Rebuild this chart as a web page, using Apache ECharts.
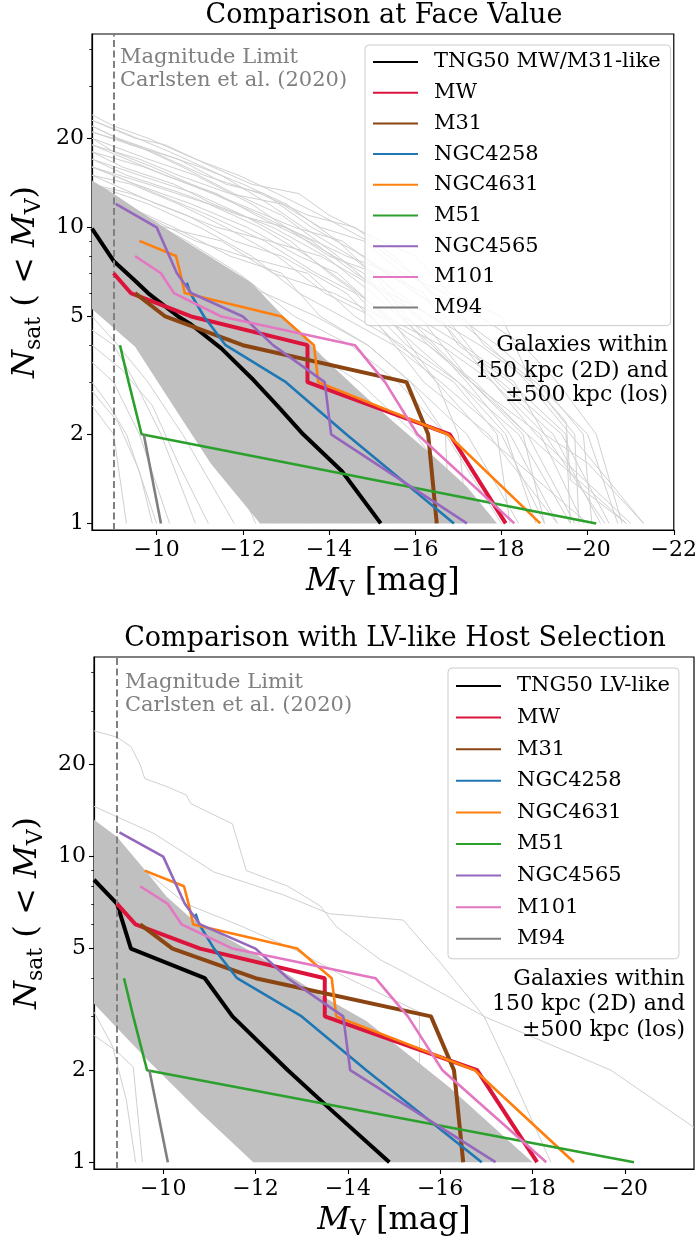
<!DOCTYPE html>
<html>
<head>
<meta charset="utf-8">
<script src="https://cdn.jsdelivr.net/npm/echarts@6/dist/echarts.min.js"></script>
<style>
html,body{margin:0;padding:0;background:#fff;}
#main{width:700px;height:1246px;}
</style>
</head>
<body>
<div id="main"></div>
<script>
// Cumulative satellite luminosity functions: [M_V, N_sat(<M_V)]
const obsNames = ['MW', 'M31', 'NGC4258', 'NGC4631', 'M51', 'NGC4565', 'M101', 'M94'];
const mw      = [[-9.0,7],[-9.4,6],[-10.8,5],[-13.5,4],[-13.5,3],[-16.8,2],[-18.1,1]];
const m31     = [[-9.5,6],[-10.2,5],[-12.0,4],[-15.8,3],[-16.3,2],[-16.5,1]];
const ngc4258 = [[-10.7,6.5],[-10.78,6],[-11.1,5],[-11.6,4],[-13.0,3],[-14.4,2],[-16.9,1]];
const ngc4631 = [[-9.6,9],[-10.45,8],[-10.55,7],[-10.65,6],[-12.9,5],[-13.65,4],[-13.75,3],[-16.75,2],[-18.9,1]];
const m51     = [[-9.15,4],[-9.35,3],[-9.65,2],[-20.2,1]];
const ngc4565 = [[-9.05,12],[-10.0,10],[-10.47,7],[-10.8,6],[-12.0,5],[-12.7,4],[-13.9,3],[-14.05,2],[-17.2,1]];
const m101    = [[-9.5,8],[-10.1,7],[-10.4,6],[-11.5,5],[-14.6,4],[-15.3,3],[-16.05,2],[-18.3,1]];
const m94     = [[-9.7,2],[-10.1,1]];

// TNG50 medians
const tngFace = [[-8.5,9.9],[-9.0,7.7],[-9.5,6.6],[-9.8,6.0],[-10.5,5.0],[-10.8,4.7],[-11.5,3.9],[-12.2,3.1],[-12.8,2.5],[-13.4,2.0],[-14.3,1.5],[-15.2,1.0]];
const tngLV   = [[-8.5,8.4],[-9.0,7.0],[-9.3,5.0],[-10.9,4.0],[-11.5,3.0],[-12.7,2.0],[-13.6,1.5],[-14.9,1.0]];

// TNG50 scatter bands (upper edge left->right, lower edge left->right)
const bandFaceUpper = [[-8.5,14.4],[-9.0,13.0],[-10.5,9.3],[-12.2,6.5],[-13.0,4.9],[-13.9,3.6],[-14.7,2.8],[-15.5,2.2],[-16.4,1.7],[-17.2,1.33],[-17.9,1.0]];
const bandFaceLower = [[-8.5,5.3],[-9.5,3.95],[-10.5,2.35],[-11.26,1.59],[-12.4,1.0]];
const bandLVUpper   = [[-8.5,13.2],[-9.0,11.6],[-9.64,8.9],[-10.07,7.4],[-10.57,6.35],[-12.0,4.8],[-13.3,3.6],[-14.4,2.9],[-16.2,1.76],[-18.0,1.0]];
const bandLVLower   = [[-8.5,3.3],[-9.66,2.16],[-10.83,1.44],[-11.95,1.0]];

// Individual TNG50 hosts
const hostsFace = [
  [[-8.5,23],[-9.2,21],[-10.3,18],[-11.5,15],[-12.6,12],[-13.4,10],[-14.5,8],[-15.6,6],[-16.8,4.5],[-17.8,3],[-19.0,2],[-20.0,1.6],[-21.3,1]],
  [[-8.5,21],[-9.5,19],[-10.6,16],[-11.8,13],[-12.9,11],[-14.2,8],[-15.2,6],[-16.3,4],[-17.4,3],[-18.6,2],[-20.9,1]],
  [[-8.5,19],[-9.3,17],[-10.2,15],[-11.4,13],[-12.3,11],[-13.5,9],[-14.8,7],[-15.7,5],[-16.8,4],[-18.0,3],[-19.4,2],[-20.5,1]],
  [[-8.5,17],[-9.6,15],[-10.9,13],[-12.0,11],[-13.1,9],[-14.0,7],[-15.4,5],[-16.5,3],[-17.6,2],[-20.0,1]],
  [[-8.5,16],[-9.0,15],[-10.0,13],[-11.2,11],[-12.5,9],[-13.7,7],[-14.6,6],[-15.8,4],[-17.0,3],[-18.4,2],[-19.6,1]],
  [[-8.5,15],[-9.4,14],[-10.5,12],[-11.6,10],[-12.8,8],[-13.9,6],[-15.0,5],[-16.2,3],[-17.7,2],[-19.3,1]],
  [[-8.5,14],[-9.8,12],[-11.0,10],[-12.2,8],[-13.3,6],[-14.3,5],[-15.5,4],[-16.6,3],[-18.0,2],[-19.0,1]],
  [[-8.5,20],[-9.0,18],[-9.9,16],[-10.8,14],[-11.9,12],[-13.2,10],[-14.3,9],[-15.3,7],[-16.2,6],[-17.0,4],[-18.2,3],[-19.5,2],[-19.6,1]],
  [[-8.5,22],[-9.1,20],[-10.0,18],[-11.0,16],[-12.0,14],[-13.0,12],[-14.2,9],[-15.0,7],[-15.8,5],[-17.3,3],[-18.5,2],[-19.0,1]],
  [[-8.5,18],[-9.7,16],[-11.3,13],[-12.4,11],[-13.6,9],[-14.6,7],[-15.4,6],[-16.4,5],[-17.5,4],[-18.7,3],[-19.7,2],[-19.8,1]],
  [[-8.5,13],[-9.2,12],[-10.4,10],[-11.7,8],[-12.9,7],[-13.8,5],[-14.9,4],[-15.9,3],[-17.2,2],[-18.4,1]],
  [[-8.5,12],[-9.6,11],[-10.7,9],[-11.9,7],[-13.2,5],[-14.5,4],[-15.6,3],[-16.7,2],[-18.0,1]],
  [[-8.5,11],[-9.9,9],[-11.1,7],[-12.3,6],[-13.4,4],[-14.7,3],[-16.0,2],[-17.5,1]],
  [[-8.5,10],[-9.3,9],[-10.5,7],[-11.7,5],[-13.0,4],[-14.0,3],[-15.4,2],[-16.8,1]],
  [[-8.5,9],[-9.8,7],[-11.2,5],[-12.4,4],[-13.6,3],[-14.8,2],[-16.0,1]],
  [[-8.5,8],[-9.5,7],[-10.8,5],[-12.0,4],[-13.0,3],[-14.3,2],[-15.3,1]],
  [[-8.5,7],[-9.4,6],[-10.4,5],[-11.5,4],[-12.5,3],[-13.8,2],[-14.6,1]],
  [[-8.5,6],[-9.3,5],[-10.2,4],[-11.0,3],[-12.0,2],[-13.5,1]],
  [[-8.5,5],[-9.1,4],[-9.8,3],[-10.6,2],[-11.8,1]],
  [[-8.5,4.5],[-9.0,4],[-9.5,3],[-10.1,2],[-10.9,1]],
  [[-8.5,3.5],[-9.0,3],[-9.6,2],[-10.3,1]],
  [[-8.5,3],[-8.9,2.5],[-9.3,2],[-10.0,1]],
  [[-8.5,2.5],[-9.0,2],[-9.3,1]],
  [[-8.5,6.5],[-9.6,5],[-10.7,4],[-11.4,3],[-12.1,2],[-12.8,1]],
  [[-8.5,22],[-9.4,19],[-10.5,17],[-11.6,14],[-12.5,13],[-13.6,10],[-14.8,8],[-16.0,6],[-17.0,5],[-17.9,4],[-18.9,3],[-19.9,2],[-20.1,1]],
  [[-8.5,20],[-9.8,17],[-10.9,15],[-12.2,12],[-13.0,10],[-14.0,8],[-15.1,7],[-16.0,5],[-17.1,4],[-18.3,3],[-19.0,2],[-20.4,1]],
  [[-8.5,16],[-9.5,14],[-10.8,12],[-12.1,10],[-13.3,8],[-14.2,7],[-15.3,5],[-16.6,4],[-17.8,3],[-18.8,2],[-21.0,1]],
  [[-8.5,18],[-9.2,16],[-10.4,14],[-11.3,12],[-12.7,10],[-13.9,8],[-15.0,6],[-16.4,4],[-17.2,3],[-18.2,2],[-19.3,1]],
  [[-8.5,15],[-10.0,12],[-11.4,10],[-12.6,9],[-13.8,8],[-15.3,6],[-16.1,5],[-17.3,3],[-18.9,2],[-19.9,1]],
  [[-8.5,14],[-9.4,13],[-10.7,11],[-11.8,9],[-12.9,8],[-14.4,6],[-15.6,4],[-16.9,3],[-17.9,2],[-18.2,1]],
  [[-8.5,24],[-9.0,22],[-9.8,20],[-10.9,17],[-11.9,15],[-12.8,13],[-13.8,11],[-14.9,9],[-15.9,7],[-16.9,5],[-17.7,4],[-18.6,3],[-19.6,2],[-21.3,1]],
  [[-8.5,19],[-9.6,17],[-10.5,15],[-11.7,13],[-12.9,12],[-13.8,10],[-14.8,9],[-15.7,7],[-16.7,6],[-17.6,4],[-18.8,3],[-20.0,2],[-20.7,1]],
  [[-8.5,13],[-9.7,11],[-10.9,9],[-12.0,8],[-13.5,7],[-14.6,5],[-15.7,4],[-16.5,3],[-17.0,2],[-17.2,1]],
  [[-8.5,12],[-9.3,11],[-10.2,10],[-11.5,9],[-12.7,7],[-14.1,6],[-15.2,5],[-16.3,4],[-17.3,3],[-18.6,2],[-19.7,1]],
  [[-8.5,17],[-9.3,15],[-10.6,13],[-11.9,11],[-13.0,10],[-14.4,8],[-15.5,7],[-16.7,5],[-17.9,3],[-19.2,2],[-20.3,1]],
  [[-8.5,10],[-9.8,8],[-11.0,7],[-12.5,6],[-13.7,5],[-14.9,4],[-15.9,3],[-16.7,2],[-16.8,1]],
  [[-8.5,21],[-9.9,18],[-11.1,15],[-12.4,13],[-13.5,11],[-14.6,10],[-15.5,8],[-16.4,6],[-17.5,5],[-18.5,4],[-19.3,3],[-20.2,2],[-20.8,1]],
  [[-8.5,16],[-9.8,14],[-11.2,12],[-12.4,10],[-13.5,8],[-14.7,6],[-16.0,4],[-17.0,3],[-18.1,2],[-18.8,1]],
  [[-8.5,9],[-9.4,8],[-10.5,6],[-11.7,5],[-12.8,4],[-14.1,3],[-15.6,2],[-17.0,1]],
  [[-8.5,5.5],[-9.2,4.5],[-10.0,3.5],[-10.8,2.5],[-11.5,1.8],[-12.3,1]],
  [[-8.5,4],[-9.2,3.3],[-9.9,2.5],[-10.5,1.6],[-11.2,1]],
  [[-8.5,2.8],[-9.1,2.2],[-9.6,1.5],[-9.9,1]],
  [[-8.5,23],[-9.5,20],[-10.2,19],[-11.3,16],[-12.2,14],[-13.3,13],[-14.0,11],[-15.2,9],[-16.0,8],[-16.8,6],[-18.0,5],[-18.7,3],[-19.5,2.2],[-19.6,1.4],[-20.9,1]]
];
const hostsLV = [
  [[-8.5,25.8],[-9.0,24.6],[-9.3,22.9],[-9.5,20],[-9.6,18],[-10.1,16.9],[-10.5,15.9],[-10.6,14.9],[-11.5,12.8],[-11.8,9],[-12.7,8],[-13.4,6.9],[-13.75,5.9],[-14.7,4.6],[-15.2,4.2],[-16.95,3.0],[-19.7,2.0],[-21.5,1.3]],
  [[-8.5,14.6],[-9.8,11.9],[-11.1,8.9],[-12.6,7.5],[-13.6,6.5],[-15.2,6.2],[-16.0,4.5],[-16.95,3.0],[-17.5,2.0],[-18.4,1.0]],
  [[-8.5,11],[-9.6,9],[-10.5,7],[-11.6,6],[-12.8,5],[-14.0,4],[-15.55,3.1],[-15.55,2.1],[-16.2,1.5],[-16.9,1]],
  [[-8.5,2.6],[-9.0,2.3],[-9.35,2.05],[-9.55,1.0]],
  [[-8.5,3.1],[-8.9,2.4],[-9.2,1.6],[-9.4,1]]
];

// Axis ticks
const xTicksFace = [-10, -12, -14, -16, -18, -20, -22];
const xTicksLV   = [-10, -12, -14, -16, -18, -20];
const yTicks     = [1, 2, 5, 10, 20];
const yMinorTicks = [3, 4, 6, 7, 8, 9, 30, 40];
const magLimit = -9;

const obsColors = ['#dc143c', '#8b4513', '#1f77b4', '#ff7f0e', '#2ca02c', '#9467bd', '#e377c2', '#7f7f7f'];
const obsWidths = [4, 4, 2.6, 2.6, 2.6, 2.6, 2.6, 2.6];
const obsData = [mw, m31, ngc4258, ngc4631, m51, ngc4565, m101, m94];

const FONT = '"DejaVu Serif", serif';
const lg = pts => pts.map(p => [p[0], Math.log10(p[1])]);
const Y_MIN = Math.log10(0.95), Y_MAX = Math.log10(45);

const nameRich = {
  i: { fontFamily: FONT, fontStyle: 'italic', fontSize: 32, lineHeight: 38, color: '#000' },
  s: { fontFamily: FONT, fontSize: 22, lineHeight: 20, verticalAlign: 'bottom', color: '#000' },
  r: { fontFamily: FONT, fontSize: 32, lineHeight: 38, color: '#000' }
};

function xAxisFor(gridIndex, min, ticks) {
  return {
    type: 'value', gridIndex, min, max: -8.5, inverse: true,
    name: '{i|M}{s|V}{r| [mag]}', nameLocation: 'middle', nameGap: 33,
    nameTextStyle: { rich: nameRich },
    axisLine: { show: true, onZero: false, lineStyle: { color: '#000', width: 1.2 } },
    axisTick: { show: true, length: 5, lineStyle: { color: '#000', width: 1.1 }, customValues: ticks },
    axisLabel: {
      customValues: ticks, margin: 9, fontFamily: FONT, fontSize: 22, color: '#000',
      formatter: v => '\u2212' + Math.abs(v)
    },
    splitLine: { show: false }
  };
}
function yAxesFor(gridIndex) {
  return [{
    type: 'value', gridIndex, position: 'left', min: Y_MIN, max: Y_MAX,
    name: '{i|N}{s|sat}{r| ( < }{i|M}{s|V}{r|)}', nameLocation: 'middle', nameGap: 40, nameRotate: 90,
    nameTextStyle: { rich: nameRich },
    axisLine: { show: true, onZero: false, lineStyle: { color: '#000', width: 1.2 } },
    axisTick: { show: true, length: 5, lineStyle: { color: '#000', width: 1.1 }, customValues: yTicks.map(Math.log10) },
    axisLabel: {
      customValues: yTicks.map(Math.log10), margin: 8, fontFamily: FONT, fontSize: 22, color: '#000',
      formatter: v => String(Math.round(Math.pow(10, v)))
    },
    splitLine: { show: false }
  }, {
    type: 'value', gridIndex, position: 'left', offset: 0, min: Y_MIN, max: Y_MAX,
    axisLine: { show: false },
    axisTick: { show: true, length: 2.8, lineStyle: { color: '#000', width: 0.8 }, customValues: yMinorTicks.map(Math.log10) },
    axisLabel: { show: false },
    splitLine: { show: false }
  }];
}

function panelSeries(gi, tng, tngName, hosts, bandU, bandL) {
  const xi = gi, yi = gi * 2;
  const out = [];
  hosts.forEach(h => out.push({
    type: 'line', xAxisIndex: xi, yAxisIndex: yi, data: lg(h), symbol: 'none', silent: true, z: 1,
    lineStyle: { color: '#d0d0d0', width: 1 }, clip: true
  }));
  const poly = lg(bandU.concat(bandL.slice().reverse()));
  out.push({
    type: 'custom', xAxisIndex: xi, yAxisIndex: yi, silent: true, z: 2, data: poly,
    renderItem: (params, api) => {
      if (params.dataIndex !== 0) return null;
      return { type: 'polygon', shape: { points: poly.map(p => api.coord(p)) }, style: { fill: '#c0c0c0' } };
    }
  });
  out.push({
    name: tngName, type: 'line', xAxisIndex: xi, yAxisIndex: yi, data: lg(tng), symbol: 'none', z: 4,
    lineStyle: { color: '#000', width: 4 }, itemStyle: { color: '#000' },
    markLine: {
      silent: true, symbol: 'none', label: { show: false },
      lineStyle: { color: '#808080', width: 2, type: [7, 3.5] },
      data: [{ xAxis: magLimit }]
    }
  });
  obsData.forEach((d, i) => out.push({
    name: obsNames[i], type: 'line', xAxisIndex: xi, yAxisIndex: yi, data: lg(d), symbol: 'none', z: 5,
    lineStyle: { color: obsColors[i], width: obsWidths[i] }, itemStyle: { color: obsColors[i] }
  }));
  return out;
}

function legendFor(names, left, top, gap, padding) {
  return {
    data: names, orient: 'vertical', left, top, itemWidth: 45, itemHeight: 14, itemGap: gap,
    padding, selectedMode: false, itemStyle: { opacity: 0 },
    backgroundColor: 'rgba(255,255,255,0.8)', borderColor: '#cccccc', borderWidth: 1, borderRadius: 4,
    textStyle: { fontFamily: FONT, fontSize: 21, color: '#000', lineHeight: 24, padding: [0, 0, 0, 11] }
  };
}

function txt(x, y, text, opts) {
  return {
    type: 'text', x, y, silent: true, z: 100,
    style: Object.assign({ text, font: '22px "DejaVu Serif"', fill: '#000', align: 'left', verticalAlign: 'middle' }, opts || {})
  };
}

const chart = echarts.init(document.getElementById('main'), null, { renderer: 'canvas' });
chart.setOption({
  animation: false,
  backgroundColor: '#fff',
  grid: [
    { left: 92, top: 34, width: 583, height: 496, show: true, borderColor: '#000', borderWidth: 1.2, backgroundColor: 'transparent' },
    { left: 94, top: 657, width: 600, height: 512, show: true, borderColor: '#000', borderWidth: 1.2, backgroundColor: 'transparent' }
  ],
  xAxis: [xAxisFor(0, -22, xTicksFace), xAxisFor(1, -21.5, xTicksLV)],
  yAxis: yAxesFor(0).concat(yAxesFor(1)),
  legend: [
    legendFor(['TNG50 MW/M31-like'].concat(obsNames), 365, 45, 6.7, [5, 10, 6, 7]),
    legendFor(['TNG50 LV-like'].concat(obsNames), 448, 668, 7.6, [6, 9, 8, 7])
  ],
  series: panelSeries(0, tngFace, 'TNG50 MW/M31-like', hostsFace, bandFaceUpper, bandFaceLower)
    .concat(panelSeries(1, tngLV, 'TNG50 LV-like', hostsLV, bandLVUpper, bandLVLower)),
  graphic: [
    txt(384, 16, 'Comparison at Face Value', { font: '27px "DejaVu Serif"', align: 'center' }),
    txt(395, 639, 'Comparison with LV-like Host Selection', { font: '27px "DejaVu Serif"', align: 'center' }),
    txt(120, 57.6, 'Magnitude Limit', { font: '21px "DejaVu Serif"', fill: '#808080' }),
    txt(120, 80.6, 'Carlsten et al. (2020)', { font: '21px "DejaVu Serif"', fill: '#808080' }),
    txt(125, 682.6, 'Magnitude Limit', { font: '21px "DejaVu Serif"', fill: '#808080' }),
    txt(125, 705.3, 'Carlsten et al. (2020)', { font: '21px "DejaVu Serif"', fill: '#808080' }),
    txt(668, 345.3, 'Galaxies within', { align: 'right' }),
    txt(668, 371.3, '150 kpc (2D) and', { align: 'right' }),
    txt(668, 395.3, '\u00b1500 kpc (los)', { align: 'right' }),
    txt(685, 979, 'Galaxies within', { align: 'right' }),
    txt(685, 1004, '150 kpc (2D) and', { align: 'right' }),
    txt(685, 1030, '\u00b1500 kpc (los)', { align: 'right' })
  ]
});
</script>
</body>
</html>
